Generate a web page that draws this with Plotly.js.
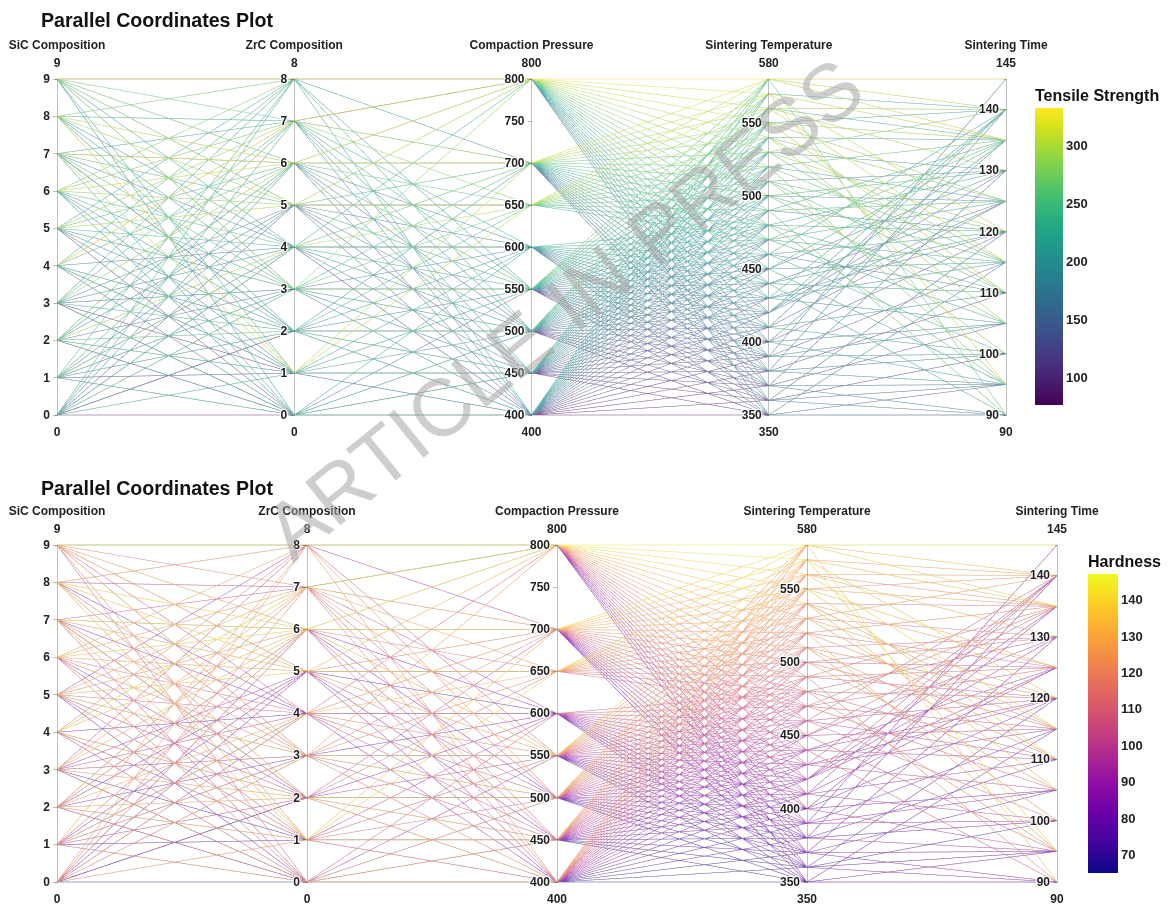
<!DOCTYPE html>
<html>
<head>
<meta charset="utf-8">
<script src="https://cdn.plot.ly/plotly-3.0.1.min.js"></script>
<style>
html,body{margin:0;padding:0;background:#fff}
#wrap{position:relative;width:1173px;height:904px;overflow:hidden}
#c1{position:absolute;left:0;top:0;width:1173px;height:452px}
#c2{position:absolute;left:0;top:452px;width:1173px;height:452px}
#wm{position:absolute;left:0;top:0;width:1173px;height:904px;pointer-events:none;z-index:10}
</style>
</head>
<body>
<div id="wrap"><div id="c1"></div><div id="c2"></div><div id="wm"></div></div>
<script>
// ---- data (one entry per sample) ----
const sicComposition = [
 0,1,3,2,0,5,1,4,0,2,6,3,1,7,0,2,5,9,0,3,8,1,4,0,
 1,0,2,4,1,3,6,0,2,5,1,8,3,0,4,7,2,1,9,5,0,6,3,2,
 2,5,0,3,7,1,4,2,8,0,3,5,9,1,6,2,4,0,7,3,1,8,5,2,
 3,1,6,0,2,4,9,3,1,7,2,0,5,3,8,1,4,6,2,3,0,7,9,4,
 4,2,7,5,0,8,3,6,1,4,9,2,5,7,
 6,3,8,1,5,7,4,9,2,6,8,5,
 7,4,1,8,6,2,5,9,3,7,0,6,4,8,2,7,5,1,9,6,3,7,8,6,
 9,8,6,9,5,7,9,3,8,9,6,4,9,7,8,2,9,6,5,8,9,7,4,9
];
const zrcComposition = [
 0,0,1,0,2,0,3,0,4,1,0,5,0,2,6,0,1,0,7,0,3,0,2,8,
 1,2,0,1,1,3,1,5,0,1,2,1,4,1,0,6,1,3,1,7,1,0,2,1,
 2,3,2,0,2,4,2,6,2,3,0,2,5,2,1,7,2,4,2,0,8,2,3,2,
 3,4,3,2,3,1,3,0,5,3,6,3,2,3,8,3,1,3,4,7,3,5,3,6,
 4,5,4,3,4,6,4,2,4,1,4,7,4,0,
 5,2,5,6,5,3,7,5,4,5,1,5,
 6,7,6,4,6,5,6,8,6,2,6,7,6,3,6,5,6,4,6,7,6,1,6,6,
 8,7,8,6,8,7,5,8,7,8,4,8,7,6,8,7,3,8,7,5,8,6,7,8
];
const compactionPressure = [
 400,400,400,400,400,400,400,400,400,400,400,400,400,400,400,400,400,400,400,400,400,400,400,400,
 450,450,450,450,450,450,450,450,450,450,450,450,450,450,450,450,450,450,450,450,450,450,450,450,
 500,500,500,500,500,500,500,500,500,500,500,500,500,500,500,500,500,500,500,500,500,500,500,500,
 550,550,550,550,550,550,550,550,550,550,550,550,550,550,550,550,550,550,550,550,550,550,550,550,
 600,600,600,600,600,600,600,600,600,600,600,600,600,600,
 650,650,650,650,650,650,650,650,650,650,650,650,
 700,700,700,700,700,700,700,700,700,700,700,700,700,700,700,700,700,700,700,700,700,700,700,700,
 800,800,800,800,800,800,800,800,800,800,800,800,800,800,800,800,800,800,800,800,800,800,800,800
];
const sinteringTemperature = [
 350,360,370,380,390,400,410,420,430,440,450,460,470,480,490,500,510,520,530,540,550,560,570,580,
 350,360,370,380,390,400,410,420,430,440,450,460,470,480,490,500,510,520,530,540,550,560,570,580,
 350,360,370,380,390,400,410,420,430,440,450,460,470,480,490,500,510,520,530,540,550,560,570,580,
 350,360,370,380,390,400,410,420,430,440,450,460,470,480,490,500,510,520,530,540,550,560,570,580,
 350,360,370,380,390,400,410,420,430,440,450,460,470,480,
 470,480,490,500,510,520,530,540,550,560,570,580,
 350,360,370,380,390,400,410,420,430,440,450,460,470,480,490,500,510,520,530,540,550,560,570,580,
 350,360,370,380,390,400,410,420,430,440,450,460,470,480,490,500,510,520,530,540,550,560,570,580
];
const sinteringTime = [
 90,95,95,100,105,105,110,125,115,120,115,120,125,130,120,125,130,125,130,135,140,135,140,145,
 90,100,105,110,115,120,125,130,120,125,130,110,115,120,125,130,120,135,140,125,135,140,135,140,
 95,120,130,140,145,135,140,135,105,110,95,140,105,110,135,115,110,115,110,115,125,130,120,135,
 115,90,90,95,100,95,100,140,140,90,135,100,135,95,90,105,100,95,120,105,110,115,95,90,
 90,95,95,100,105,105,110,125,115,120,115,120,125,130,
 115,120,125,130,120,135,140,125,135,140,135,140,
 95,120,130,140,145,135,140,135,105,110,95,140,105,110,135,115,110,115,110,115,125,130,120,135,
 115,90,90,95,100,95,100,140,140,90,135,100,135,95,90,105,100,95,120,105,110,115,95,145
];
const tensileStrength = [
 76,86,87,99,98,113,111,126,124,139,137,152,150,165,163,178,176,191,189,204,202,217,215,229,
 92,91,105,104,118,117,131,130,144,143,157,156,170,169,183,182,196,195,209,208,222,221,235,234,
 98,111,110,124,123,137,136,150,149,163,162,176,175,189,188,202,201,215,214,228,227,241,240,254,
 117,116,130,129,143,142,156,155,169,168,182,181,195,194,208,207,221,220,234,233,247,246,260,259,
 155,154,168,167,181,180,194,193,207,206,220,219,233,232,
 240,239,253,252,266,265,279,278,292,291,305,304,
 147,161,160,174,173,187,186,200,199,213,212,226,225,239,238,252,251,265,264,282,290,298,306,314,
 180,179,193,192,206,205,219,218,232,231,245,244,258,257,271,270,284,283,297,296,310,309,323,332
];
const hardness = [
 65,70,68,75,73,80,78,85,88,86,93,91,99,96,104,102,109,107,114,112,119,117,124,122,
 69,68,75,73,80,78,85,84,90,89,96,94,101,99,106,104,111,110,116,115,122,120,127,125,
 72,71,77,76,82,81,88,86,93,92,98,97,103,102,109,107,114,112,119,118,124,123,129,128,
 71,77,76,82,81,87,86,93,91,98,97,103,102,108,107,113,112,119,118,124,123,129,128,134,
 77,76,82,81,87,86,93,91,98,97,103,102,108,107,
 110,110,116,115,121,120,126,125,131,130,137,136,
 82,81,87,86,92,91,98,97,103,102,108,107,113,112,118,117,124,123,129,128,134,133,139,141,
 84,89,88,95,94,100,99,105,104,110,109,116,115,121,120,126,125,131,130,136,139,141,144,147
];
const dimLabels = ['SiC Composition','ZrC Composition','Compaction Pressure','Sintering Temperature','Sintering Time'];
const plotTitle = 'Parallel Coordinates Plot';
const watermark = 'ARTICLE IN PRESS';

// ---- styling ----
const FAM = 'Arial, "Liberation Sans", sans-serif';
const viridis = [[0,'#440154'],[0.0627,'#48186a'],[0.1255,'#472d7b'],[0.1882,'#424086'],[0.251,'#3b528b'],
  [0.3137,'#33638d'],[0.3765,'#2c728e'],[0.4392,'#26828e'],[0.502,'#21918c'],[0.5647,'#1fa088'],
  [0.6275,'#28ae80'],[0.6902,'#3fbc73'],[0.7529,'#5ec962'],[0.8157,'#84d44b'],[0.8784,'#addc30'],
  [0.9412,'#d8e219'],[1,'#fde725']];
const plasma = [[0,'#0d0887'],[0.1,'#41049d'],[0.2,'#6a00a8'],[0.3,'#8f0da4'],[0.4,'#b12a90'],
  [0.5,'#cc4778'],[0.6,'#e16462'],[0.7,'#f2844b'],[0.8,'#fca636'],[0.9,'#fcce25'],[1,'#f0f921']];
function lighten(scale, f){
  return scale.map(([s, hex]) => {
    const n = parseInt(hex.slice(1), 16);
    const c = [(n >> 16) & 255, (n >> 8) & 255, n & 255].map(v => Math.round(v + (255 - v) * f));
    return [s, 'rgb(' + c.join(',') + ')'];
  });
}
const LIGHT = 0.3;

function dims(){
  return [
    {label: dimLabels[0], values: sicComposition, range:[0,9]},
    {label: dimLabels[1], values: zrcComposition, range:[0,8]},
    {label: dimLabels[2], values: compactionPressure, range:[400,800]},
    {label: dimLabels[3], values: sinteringTemperature, range:[350,580]},
    {label: dimLabels[4], values: sinteringTime, range:[90,145]}
  ];
}
const lblFont = {family: FAM, size: 12, color: '#222', weight: 'bold'};
const tkFont = {family: FAM, size: 12, color: '#222', weight: 'bold'};
const cbTick = {family: FAM, size: 13, color: '#222', weight: 'bold'};
const cbTitle = {family: FAM, size: 16, color: '#111', weight: 'bold'};
const titleFont = {family: FAM, size: 19.6, color: '#111', weight: 'bold'};

function colorbarTrace(vals, scale, cb){
  const lo = Math.min(...vals), hi = Math.max(...vals);
  return {type: 'scatter', mode: 'markers', x: [null, null], y: [null, null], hoverinfo: 'skip', showlegend: false,
    marker: {color: [lo, hi], cmin: lo, cmax: hi, colorscale: scale, showscale: true, colorbar: cb}};
}

function makePanel(div, opts){
  const W = 1173, H = 452;
  const t = opts.axisTop - 2, b = H - (opts.axisBottom + 2);
  const l = 57, r = W - opts.axisRight;
  const PW = W - l - r, PH = H - t - b;
  const px = x => (x - l) / PW;
  const py = y => 1 - (y - t) / PH;
  const pc = {
    type: 'parcoords',
    domain: {x: [0, 1], y: [0, 1]},
    labelfont: lblFont, tickfont: tkFont, rangefont: tkFont,
    line: {color: opts.values, colorscale: lighten(opts.scale, LIGHT), showscale: false},
    dimensions: dims()
  };
  const cb = colorbarTrace(opts.values, opts.scale, {
    title: {text: opts.cbTitle, side: 'top', font: cbTitle},
    thickness: opts.cbThick, len: opts.cbBottom - opts.cbTitleTop, lenmode: 'pixels',
    x: px(opts.cbLeft), xanchor: 'left', xpad: 0,
    y: py(opts.cbBottom), yanchor: 'bottom', ypad: 0,
    outlinewidth: 0, dtick: opts.dtick, tickfont: cbTick
  });
  const layout = {
    width: W, height: H,
    margin: {l: l, r: r, t: t, b: b},
    paper_bgcolor: 'rgba(0,0,0,0)', plot_bgcolor: 'rgba(0,0,0,0)',
    font: {family: FAM},
    xaxis: {visible: false, fixedrange: true}, yaxis: {visible: false, fixedrange: true},
    annotations: [
      {text: plotTitle, xref: 'paper', yref: 'paper', x: px(39), y: py(opts.titleY), xanchor: 'left', yanchor: 'middle',
       showarrow: false, font: titleFont}
    ]
  };
  Plotly.newPlot(div, [pc, cb], layout, {displayModeBar: false});
}

makePanel('c1', {values: tensileStrength, scale: viridis, cbTitle: 'Tensile Strength', dtick: 50,
  axisTop: 79, axisBottom: 415, axisRight: 1006, titleY: 20,
  cbLeft: 1035, cbTitleTop: 86, cbBottom: 405, cbThick: 28});
makePanel('c2', {values: hardness, scale: plasma, cbTitle: 'Hardness', dtick: 10,
  axisTop: 545 - 452, axisBottom: 882 - 452, axisRight: 1057, titleY: 488 - 452,
  cbLeft: 1088, cbTitleTop: 552 - 452, cbBottom: 873 - 452, cbThick: 30});

// watermark overlay
Plotly.newPlot('wm', [], {
  width: 1173, height: 904, margin: {l: 0, r: 0, t: 0, b: 0},
  paper_bgcolor: 'rgba(0,0,0,0)', plot_bgcolor: 'rgba(0,0,0,0)',
  xaxis: {visible: false, range: [0, 1173]}, yaxis: {visible: false, range: [904, 0]},
  annotations: [{text: watermark, xref: 'x', yref: 'y', x: 563, y: 309, xanchor: 'center', yanchor: 'middle',
    showarrow: false, textangle: -39, font: {family: FAM, size: 81, color: 'rgba(165,165,165,0.55)'}}]
}, {displayModeBar: false, staticPlot: true});
</script>
</body>
</html>
